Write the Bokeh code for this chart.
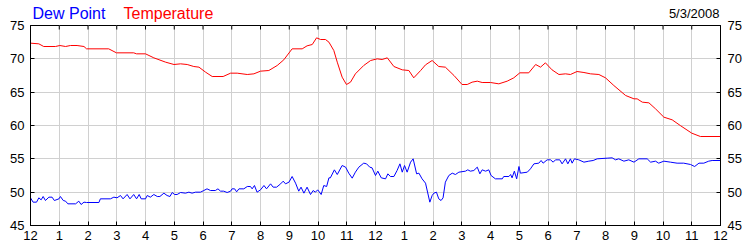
from bokeh.plotting import figure
from bokeh.models import Range1d, FixedTicker, LinearAxis
from bokeh.core.properties import value
from bokeh.embed import file_html
from bokeh.resources import INLINE

# ---- data ----
hour_ticks = list(range(25))
hour_labels = ["12", "1", "2", "3", "4", "5", "6", "7", "8", "9", "10", "11",
               "12", "1", "2", "3", "4", "5", "6", "7", "8", "9", "10", "11", "12"]
y_ticks = [45, 50, 55, 60, 65, 70, 75]
date_text = "5/3/2008"
series_names = ["Dew Point", "Temperature"]

temp_hours = [0, 0.29, 0.46, 0.87, 1.02, 1.22, 1.39, 1.62, 1.86, 1.95, 2.72, 2.99, 3.59, 3.69,
              4.0, 4.29, 4.7, 4.99, 5.22, 5.45, 5.68, 5.86, 6.09, 6.32, 6.7, 6.96, 7.19, 7.54,
              7.77, 8.0, 8.29, 8.58, 8.81, 9.1, 9.45, 9.62, 9.8, 9.95, 10.09, 10.26, 10.38,
              10.55, 10.67, 10.84, 10.99, 11.13, 11.3, 11.59, 11.83, 12.06, 12.23, 12.41,
              12.64, 12.93, 13.16, 13.33, 13.57, 13.74, 13.97, 14.2, 14.43, 14.73, 15.01,
              15.19, 15.36, 15.54, 15.71, 16.0, 16.29, 16.58, 16.81, 17.02, 17.33, 17.57,
              17.74, 17.91, 18.14, 18.38, 18.61, 18.78, 19.01, 19.25, 19.48, 19.77, 20.0,
              20.29, 20.7, 20.99, 21.1, 21.28, 21.51, 21.74, 22.03, 22.32, 22.6, 23.0, 23.3, 24.0]
temp_values = [72.35, 72.25, 71.85, 71.85, 72.0, 71.85, 72.0, 72.0, 71.85, 71.5, 71.5, 70.9,
               70.9, 70.75, 70.75, 70.15, 69.5, 69.15, 69.25, 69.15, 68.85, 68.75, 68.0, 67.35,
               67.35, 67.85, 67.85, 67.65, 67.75, 68.15, 68.25, 69.0, 69.85, 71.5, 71.5, 71.95,
               72.15, 73.15, 72.9, 72.9, 72.5, 71.25, 69.5, 67.25, 66.15, 66.5, 67.75, 69.0,
               69.75, 70.0, 69.9, 70.15, 68.85, 68.35, 68.25, 67.15, 68.25, 69.1, 69.75, 68.85,
               68.75, 67.5, 66.15, 66.15, 66.5, 66.65, 66.45, 66.45, 66.25, 66.65, 67.15, 67.9,
               67.9, 69.15, 68.75, 69.4, 68.35, 67.65, 67.75, 67.65, 68.1, 67.95, 67.75, 67.65,
               67.15, 66.0, 64.5, 64.0, 64.0, 63.5, 63.4, 62.5, 61.25, 60.85, 60.0, 58.85,
               58.35, 58.35]

dew_hours = [0.0, 0.09, 0.21, 0.29, 0.37, 0.44, 0.52, 0.64, 0.75, 0.83, 0.99, 1.04, 1.14, 1.22,
             1.30, 1.57, 1.68, 1.76, 1.86, 1.95, 2.38, 2.43, 2.78, 2.90, 3.01, 3.13, 3.22, 3.36,
             3.46, 3.59, 3.69, 3.78, 3.85, 4.0, 4.06, 4.17, 4.29, 4.41, 4.50, 4.64, 4.75, 4.85,
             4.93, 5.01, 5.10, 5.22, 5.39, 5.51, 5.62, 5.74, 5.91, 6.03, 6.14, 6.26, 6.43, 6.52,
             6.61, 6.72, 6.84, 6.96, 7.01, 7.10, 7.17, 7.25, 7.42, 7.54, 7.65, 7.71, 7.79, 7.88,
             8.0, 8.12, 8.21, 8.35, 8.44, 8.56, 8.70, 8.79, 8.87, 8.99, 9.10, 9.22, 9.33, 9.41,
             9.51, 9.62, 9.74, 9.83, 9.91, 9.99, 10.11, 10.20, 10.30, 10.38,
             10.43, 10.57, 10.67, 10.84, 10.96, 11.07, 11.19, 11.3, 11.42, 11.59, 11.69, 11.8,
             11.88, 12.0, 12.08, 12.2, 12.35, 12.43, 12.52, 12.64, 12.75, 12.85, 12.93, 13.01,
             13.1, 13.22, 13.31, 13.43, 13.51, 13.62, 13.74,
             13.89, 13.97, 14.03, 14.12, 14.2, 14.28, 14.35, 14.43, 14.55, 14.67, 14.78, 14.9,
             15.13, 15.21, 15.3, 15.42, 15.54, 15.63, 15.71, 15.83, 15.94, 16.02, 16.17, 16.41,
             16.46, 16.64, 16.7, 16.75, 16.83, 16.91, 16.99, 17.04, 17.28, 17.39, 17.51, 17.68,
             17.76, 17.83, 17.97, 18.09, 18.18, 18.26, 18.41, 18.49, 18.61, 18.69, 18.78, 18.84,
             18.92, 19.07, 19.25, 19.42, 19.57, 19.71, 20.06, 20.23, 20.35, 20.46, 20.64, 20.81,
             20.99, 21.16, 21.45, 21.57, 21.74, 21.85, 22.03, 22.26, 22.49, 22.72, 22.96, 23.1,
             23.25, 23.42, 23.59, 23.71, 24.0]
dew_values = [49.15, 48.5, 48.5, 49.15, 48.85, 49.35, 48.75, 49.25, 49.25, 48.75, 49.0, 49.35,
              48.75, 48.65, 48.25, 48.25, 48.65, 48.15, 48.5, 48.45, 48.45, 49.0, 49.0, 49.25,
              49.15, 49.5, 49.0, 49.65, 49.0, 49.65, 49.0, 49.65, 49.0, 49.0, 49.5, 49.25, 49.65,
              49.35, 49.35, 49.85, 49.5, 49.35, 49.95, 49.65, 49.65, 49.95, 49.85, 50.0, 49.85,
              50.0, 50.0, 50.25, 50.5, 50.25, 50.25, 50.5, 50.15, 50.15, 49.95, 50.15, 50.5, 50.5,
              50.05, 50.5, 50.5, 50.85, 50.85, 50.5, 51.0, 50.0, 50.35, 51.0, 50.5, 51.25, 50.75,
              50.75, 51.25, 51.65, 51.25, 51.5, 52.35, 51.35, 50.15, 50.75, 49.85, 50.75, 49.65,
              50.25, 50.0, 50.35, 49.65, 51.0, 50.85, 52.15,
              52.15, 53.35, 52.65, 54.0, 53.75, 52.85, 52.1, 53.0, 53.75, 54.35, 54.25, 53.75,
              53.65, 52.5, 53.15, 52.15, 52.0, 52.75, 52.35, 52.35, 53.25, 54.25, 53.0, 54.0,
              53.0, 54.5, 55.0, 52.75, 52.85, 52.0, 51.35,
              48.5, 49.5, 49.85, 50.0, 49.0, 48.75, 49.15, 51.5, 52.5, 52.85, 52.65, 53.0,
              53.15, 53.35, 53.15, 53.25, 53.75, 52.75, 53.35, 53.15, 53.35, 52.5, 52.0, 52.0,
              52.35, 52.35, 52.65, 52.15, 53.15, 52.0, 53.85, 52.85, 53.0, 53.5, 54.25, 54.35,
              54.75, 54.35, 54.85, 54.85, 54.5, 54.85, 54.85, 54.25, 55.0, 54.25, 55.0, 54.35,
              55.0, 54.85, 54.5, 54.65, 54.75, 55.0, 55.1, 55.15, 54.85, 55.0, 54.65, 54.85,
              54.5, 55.0, 55.0, 54.5, 54.65, 54.35, 54.65, 54.5, 54.35, 54.35, 54.15, 53.85,
              54.35, 54.35, 54.65, 54.75, 54.75]

FONT = "Liberation Sans"

p = figure(width=750, height=250, output_backend="svg", toolbar_location=None,
           x_range=Range1d(0, 24), y_range=Range1d(45, 75),
           min_border_left=30, min_border_right=30, min_border_top=25, min_border_bottom=25,
           x_axis_location="below", y_axis_location="left")
p.background_fill_color = "white"
p.border_fill_color = "white"
p.outline_line_color = "black"
p.outline_line_width = 1

xt = FixedTicker(ticks=hour_ticks)
yt = FixedTicker(ticks=y_ticks)
overrides = {h: lab for h, lab in zip(hour_ticks, hour_labels)}


def style_axis(ax, ticker, standoff=6):
    ax.ticker = ticker
    ax.axis_line_color = "black"
    ax.major_tick_line_color = "black"
    ax.major_tick_in = 4
    ax.major_tick_out = 0
    ax.minor_tick_line_color = None
    ax.major_label_text_font = FONT
    ax.major_label_text_font_size = "13px"
    ax.major_label_text_color = "black"
    ax.major_label_standoff = standoff


style_axis(p.xaxis[0], xt, standoff=5)
p.xaxis[0].major_label_overrides = overrides
style_axis(p.yaxis[0], yt, standoff=6)

right = LinearAxis()
style_axis(right, yt, standoff=7)
p.add_layout(right, "right")

p.xgrid.ticker = xt
p.ygrid.ticker = yt
p.xgrid.grid_line_color = "#d0d0d0"
p.ygrid.grid_line_color = "#d0d0d0"

# top-edge ticks, one per hour tick
p.segment(x0=hour_ticks, x1=hour_ticks, y0=[y_ticks[-1]] * len(hour_ticks),
          y1=[y_ticks[-1] - 0.6] * len(hour_ticks), line_color="black", line_width=1)

p.line(temp_hours, temp_values, line_color="#ff0000", line_width=1)
p.line(dew_hours, dew_values, line_color="#0000ff", line_width=1)

# header texts above the frame (series names and date), drawn at overlay level
p.text(x=[0.07], y=[76.8], text=[series_names[0]], text_color="#0000ff",
       text_font=value(FONT), text_font_size="16px", text_baseline="middle", level="overlay")
p.text(x=[3.235], y=[76.8], text=[series_names[1]], text_color="#ff0000",
       text_font=value(FONT), text_font_size="16px", text_baseline="middle", level="overlay")
p.text(x=[23.965], y=[76.8], text=[date_text], text_color="black", text_align="right",
       text_font=value(FONT), text_font_size="13px", text_baseline="middle", level="overlay")

open("out.html", "w").write(file_html(p, INLINE))
